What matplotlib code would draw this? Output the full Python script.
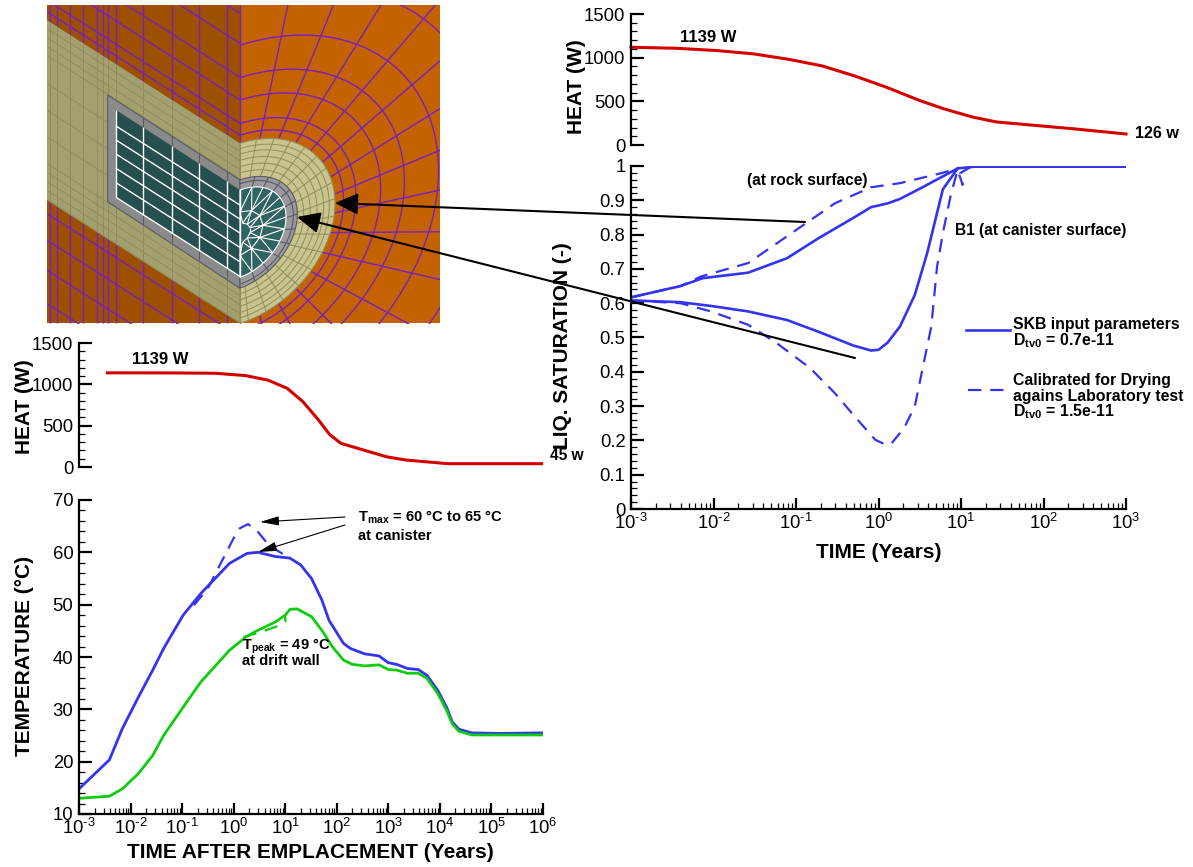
import numpy as np
import matplotlib
matplotlib.use("Agg")
import matplotlib.pyplot as plt
from matplotlib.ticker import LogLocator, MultipleLocator, FixedLocator, NullFormatter, FuncFormatter
from matplotlib.patches import Polygon, Rectangle

# ---------- data (log10 of years, values) ----------
heat_top_logt = [-3, -2.46, -1.97, -1.52, -1.08, -0.68, -0.29, 0.10, 0.50, 0.79, 1.14, 1.43, 1.88, 2.37, 3.0]
heat_top_w = [1119, 1108, 1082, 1044, 980, 905, 791, 660, 509, 415, 320, 264, 226, 185, 126]

heat_left_logt = [-2.45, -1.2, -0.36, 0.23, 0.67, 1.04, 1.34, 1.64, 1.86, 2.08, 2.53, 2.97, 3.34, 4.16, 6]
heat_left_w = [1139, 1138, 1134, 1106, 1050, 951, 792, 573, 394, 286, 203, 123, 84, 40, 40]

can_logt = [-3, -2.41, -2.16, -1.85, -1.57, -1.36, -0.98, -0.64, -0.08, 0.26, 0.47, 0.81, 1.09, 1.30, 1.51, 1.71, 1.85,
            2.13, 2.27, 2.54, 2.82, 3.0, 3.16, 3.37, 3.58, 3.75, 3.96, 4.13, 4.24, 4.37, 4.62, 5.17, 6]
can_temp = [14.8, 20.35, 26.3, 32.3, 37.5, 41.6, 48, 52.1, 57.9, 59.8, 60, 59.2, 58.9, 57.6, 55, 50.9, 47,
            42.6, 41.6, 40.6, 40.2, 38.9, 38.6, 37.8, 37.6, 36.5, 33.6, 30.4, 27.6, 26.2, 25.5, 25.4, 25.5]
wall_logt = [-3, -2.41, -2.16, -1.85, -1.57, -1.36, -0.98, -0.64, -0.08, 0.26, 0.47, 0.81, 1.0, 1.09, 1.23, 1.51, 1.71,
             1.92, 2.13, 2.3, 2.54, 2.82, 3.0, 3.16, 3.37, 3.58, 3.75, 3.96, 4.13, 4.24, 4.37, 4.62, 6]
wall_temp = [13, 13.4, 14.8, 17.7, 21.2, 25, 30.4, 35.2, 41.3, 44, 45.1, 46.7, 48, 49.1, 49.2, 47.7, 45.1,
             41.9, 39.4, 38.6, 38.3, 38.5, 37.6, 37.5, 36.9, 36.9, 35.9, 33, 29.8, 27.2, 25.8, 25.1, 25.1]
can_dash_logt = [-0.77, -0.5, -0.22, 0, 0.12, 0.28, 0.47, 0.68, 0.95]
can_dash_temp = [49.9, 53.1, 58.5, 62.7, 64.6, 65.4, 63.9, 61.4, 59.7]
wall_dash_logt = [0.19, 0.54, 0.85, 1.0, 1.0]
wall_dash_temp = [43.8, 44.8, 45.9, 46.7, 48]

rock_logt = [-3, -2.4, -2.13, -1.58, -1.38, -1.11, -0.73, -0.31, -0.09, 0.11, 0.26, 0.51, 0.96, 1.16, 3]
rock_sat = [.617, .650, .673, .689, .707, .731, .789, .848, .88, .891, .904, .935, .993, .998, .998]
rock_dash_logt = [-3, -2.4, -2.15, -1.58, -1.23, -0.88, -0.53, -0.09, 0.26, 0.76, 0.96]
rock_dash_sat = [.617, .65, .678, .717, .775, .833, .891, .938, .95, .979, .993]
cani_logt = [-3, -2.4, -2.03, -1.58, -1.11, -0.73, -0.31, -0.09, 0, 0.11, 0.26, 0.44, 0.59, 0.78, 0.96]
cani_sat = [.608, .603, .592, .576, .551, .517, .477, .462, .464, .485, .532, .624, .746, .932, .993]
cani_dash_logt = [-3, -2.4, -2.03, -1.58, -1.23, -0.83, -0.53, -0.29, -0.04, 0.09, 0.16, 0.31, 0.44, 0.54, 0.64, 0.71,
                  0.78, 0.88, 0.96, 1.02, 0.99, 1.11]
cani_dash_sat = [.608, .6, .576, .537, .483, .411, .338, .27, .202, .187, .192, .236, .299, .416, .532, .707,
                 .804, .92, .988, .945, .979, .996]

time_decades_right = [-3, 3]
time_decades_left = [-3, 6]

# ---------- style ----------
plt.rcParams['font.family'] = ['Liberation Sans', 'DejaVu Sans']
plt.rcParams['mathtext.fontset'] = 'custom'
plt.rcParams['mathtext.rm'] = 'Liberation Sans'
plt.rcParams['mathtext.bf'] = 'Liberation Sans:bold'
plt.rcParams['mathtext.it'] = 'Liberation Sans'
plt.rcParams['mathtext.default'] = 'regular'
plt.rcParams['lines.solid_joinstyle'] = 'round'

W, H = 1193, 867
RED = '#D40000'
BLUE = '#3333F0'
GREEN = '#10CC10'
fig = plt.figure(figsize=(W / 100, H / 100), dpi=100, facecolor='white')


def px_axes(x0, x1, ytop, ybot):
    a = fig.add_axes([x0 / W, 1 - ybot / H, (x1 - x0) / W, (ybot - ytop) / H])
    a.patch.set_alpha(0)
    for s in ('top', 'right'):
        a.spines[s].set_visible(False)
    for s in ('left', 'bottom'):
        a.spines[s].set_linewidth(1.6)
    return a


def style_y(a, major, minor, fmt=None):
    a.yaxis.set_major_locator(MultipleLocator(major))
    a.yaxis.set_minor_locator(MultipleLocator(minor))
    a.tick_params(axis='y', which='major', direction='in', length=9, width=1.6, labelsize=13.3, pad=4)
    a.tick_params(axis='y', which='minor', direction='in', length=4.5, width=0.9)
    if fmt:
        a.yaxis.set_major_formatter(FuncFormatter(fmt))


def style_logx(a, lo, hi):
    a.set_xscale('log')
    a.set_xlim(10.0 ** lo, 10.0 ** hi)
    a.xaxis.set_major_locator(FixedLocator([10.0 ** d for d in range(lo, hi + 1)]))
    a.xaxis.set_minor_locator(LogLocator(base=10, subs=range(2, 10), numticks=30))
    a.xaxis.set_minor_formatter(NullFormatter())

    def decade(v, p):
        e = round(np.log10(v))
        return '$10^{\u2010%d}$' % -e if e < 0 else '$10^{%d}$' % e

    a.xaxis.set_major_formatter(FuncFormatter(decade))
    a.tick_params(axis='x', which='major', direction='in', length=8, width=1.6, labelsize=13.3, pad=3)
    a.tick_params(axis='x', which='minor', direction='in', length=4, width=0.9)


def hide_x(a, lo, hi):
    a.set_xscale('log')
    a.set_xlim(10.0 ** lo, 10.0 ** hi)
    a.spines['bottom'].set_visible(False)
    a.tick_params(axis='x', which='both', bottom=False, labelbottom=False)


def T(v):
    return 10.0 ** np.asarray(v, float)


# ---------- picture (mesh illustration) on a pixel canvas ----------
pic = fig.add_axes([0, 0, 1, 1], zorder=0)
pic.set_xlim(0, W)
pic.set_ylim(H, 0)
pic.axis('off')
ORANGE, DARK = '#C46200', '#9C5000'
PURPLE, OL_R, OL_L, OL_LINE = '#7A1FC0', '#C8C48C', '#A3A070', '#8F8D5E'
GRAY, GRAY_D, TEAL, TEAL_D = '#8A8A8A', '#5A5A60', '#25504F', '#2F6462'
frame = Rectangle((47, 5), 393, 319, transform=pic.transData)


def zc(x, y):
    return 40 + np.asarray(x, float) / 3, np.asarray(y, float) / 3


def add_poly(points, color, z, ec='none'):
    xs, ys = zc(*zip(*points))
    p = Polygon(np.column_stack([xs, ys]), closed=True, fc=color, ec=ec, lw=0.8, zorder=z)
    pic.add_patch(p)
    p.set_clip_path(frame)


def add_line(xs, ys, color, lw, z):
    x, y = zc(xs, ys)
    l, = pic.plot(x, y, color=color, lw=lw, zorder=z, solid_capstyle='butt')
    l.set_clip_path(frame)


def dome(k, t, b=270, r=285, s=90, cy=700):
    t = np.asarray(t, float)
    return 600 + r * k * np.cos(t), cy + b * k * np.sin(t) - s * k * np.cos(t)


add_poly([(20, 15), (600, 15), (600, 970), (20, 970)], DARK, 1)
add_poly([(600, 15), (1200, 15), (1200, 970), (600, 970)], ORANGE, 1)
slope = 370 / 580

# outer mesh, right side
tt = np.linspace(-np.pi / 2, np.pi / 2, 100)
for k in [1.09, 1.22, 1.48, 1.73, 2.09, 2.6]:
    add_line(*dome(k, tt), PURPLE, 1.0, 2)
for t0 in np.radians(np.arange(-78, 90, 12)):
    add_line(*dome(np.array([1.0, 3.2]), [t0, t0]), PURPLE, 1.0, 2)

# outer mesh, left side
vert_x = [30, 50, 90, 130, 170, 190, 205, 228, 310, 395, 478, 560, 600]
for vx in vert_x:
    add_line([vx, vx], [15, 970], PURPLE, 1.0, 2)
for off in [130, 232, 300, 370, 405, 1010, 1090, 1180, 1280, 1390, 40, -70]:
    add_line([20, 600], [off - 580 * slope, off], PURPLE, 1.0, 2)

# backfill band and its grid
add_poly([(20, 60), (600, 430), (600, 970), (20, 600)], OL_L, 3)
for off in list(np.arange(455, 560, 27)) + list(np.arange(860, 970, 27)) + [620, 700, 780]:
    add_line([20, 600], [off - 580 * slope, off], OL_LINE, 0.7, 4)
for vx in vert_x:
    add_line([vx, vx], [60 + (vx - 20) * slope, 600 + (vx - 20) * slope], OL_LINE, 0.7, 4)
dx, dy = dome(1.0, tt)
add_poly(list(zip(dx, dy)), OL_R, 3, ec=OL_LINE)
for k in [0.67, 0.74, 0.81, 0.88, 0.94]:
    add_line(*dome(k, tt), OL_LINE, 0.7, 4)
for t0 in np.radians(np.arange(-80, 90, 11)):
    add_line(*dome(np.array([0.6, 1.0]), [t0, t0]), OL_LINE, 0.7, 4)

# buffer ring and canister strip
ring = dict(b=162, r=172, s=60, cy=702)
core = dict(b=131, r=138, s=50, cy=701)
add_poly([(203, 285), (600, 540), (600, 865), (203, 605)], GRAY, 5, ec=GRAY_D)
rx, ry = dome(1.0, tt, **ring)
add_poly(list(zip(rx, ry)), '#9A9A9E', 5, ec=GRAY_D)
add_line(*dome(0.93, tt, **ring), GRAY_D, 0.8, 6)
for t0 in np.radians(np.arange(-75, 90, 15)):
    add_line(*dome(np.array([0.8, 1.0]), [t0, t0], **ring), GRAY_D, 0.8, 6)
for vx in [310, 395, 478, 560]:
    add_line([vx, vx], [285 + (vx - 203) * slope, 605 + (vx - 203) * slope], GRAY_D, 0.8, 6)
add_poly([(228, 330), (600, 570), (600, 832), (228, 592)], TEAL, 7)
cx, cy = dome(1.0, tt, **core)
add_poly(list(zip(cx, cy)), TEAL_D, 7, ec='white')

# canister grid and triangles
add_line([228, 228], [330, 592], 'white', 1.0, 8)
for vx in [310, 395, 478, 560, 600]:
    add_line([vx, vx], [330 + (vx - 228) * slope, 592 + (vx - 228) * slope], 'white', 1.0, 8)
for off in [378, 420, 462, 505, 548, 592]:
    add_line([228, 600], [off, off + 372 * slope], 'white', 1.0, 8)
k_in = 0.5
a1 = np.radians(np.arange(-90, 91, 30))
a2 = np.radians(np.arange(-75, 90, 30))
a3 = np.radians(np.arange(-90, 91, 15))
x1, y1 = dome(k_in, a1, **core)
x2, y2 = dome(k_in * 0.45, a2, **core)
x3, y3 = dome(1.0, a3, **core)
for i in range(len(a1)):
    add_line([x1[i], x3[2 * i]], [y1[i], y3[2 * i]], 'white', 0.8, 8)
    if i + 1 < len(a1):
        add_line([x1[i], x1[i + 1]], [y1[i], y1[i + 1]], 'white', 0.8, 8)
        add_line([x1[i], x3[2 * i + 1]], [y1[i], y3[2 * i + 1]], 'white', 0.8, 8)
        add_line([x1[i + 1], x3[2 * i + 1]], [y1[i + 1], y3[2 * i + 1]], 'white', 0.8, 8)
        add_line([x1[i], x2[i]], [y1[i], y2[i]], 'white', 0.8, 8)
        add_line([x1[i + 1], x2[i]], [y1[i + 1], y2[i]], 'white', 0.8, 8)
for i in range(len(a2) - 1):
    add_line([x2[i], x2[i + 1]], [y2[i], y2[i + 1]], 'white', 0.8, 8)

# ---------- top right heat ----------
a_ht = px_axes(631, 1126, 14, 145)
a_ht.plot(T(heat_top_logt), heat_top_w, color=RED, lw=2.2, clip_on=False)
a_ht.set_ylim(0, 1500)
hide_x(a_ht, *time_decades_right)
style_y(a_ht, 500, 100)

# ---------- saturation ----------
a_s = px_axes(631, 1126, 166, 509)
a_s.plot(T(rock_logt), rock_sat, color=BLUE, lw=1.9)
a_s.plot(T(cani_logt), cani_sat, color=BLUE, lw=1.9)
a_s.plot(T(rock_dash_logt), rock_dash_sat, color=BLUE, lw=1.6, dashes=(6, 4))
a_s.plot(T(cani_dash_logt), cani_dash_sat, color=BLUE, lw=1.6, dashes=(6, 4))
a_s.set_ylim(0, 1)
style_logx(a_s, *time_decades_right)
style_y(a_s, 0.1, 0.02, fmt=lambda v, p: ('%.1f' % v).rstrip('0').rstrip('.') if abs(v) > 1e-9 else '0')

# ---------- left heat ----------
a_hl = px_axes(79, 543, 343, 467)
a_hl.plot(T(heat_left_logt), heat_left_w, color=RED, lw=2.2)
a_hl.set_ylim(0, 1500)
hide_x(a_hl, *time_decades_left)
style_y(a_hl, 500, 100)

# ---------- temperature ----------
a_t = px_axes(79, 543, 500, 814)
a_t.plot(T(can_logt), can_temp, color=BLUE, lw=2.0)
a_t.plot(T(wall_logt), wall_temp, color=GREEN, lw=2.0)
a_t.plot(T(can_dash_logt), can_dash_temp, color=BLUE, lw=1.6, dashes=(6, 4))
a_t.plot(T(wall_dash_logt), wall_dash_temp, color=GREEN, lw=1.6, dashes=(6, 4))
a_t.set_ylim(10, 70)
style_logx(a_t, *time_decades_left)
style_y(a_t, 10, 2)

# ---------- overlay: text, arrows, key ----------
ov = fig.add_axes([0, 0, 1, 1], zorder=10)
ov.set_xlim(0, W)
ov.set_ylim(H, 0)
ov.axis('off')
ov.patch.set_alpha(0)


def lab(x, y, s, size=12, **kw):
    kw.setdefault('ha', 'left')
    kw.setdefault('va', 'center')
    ov.text(x, y, s, fontsize=size, fontweight='bold', **kw)


lab(577, 87, 'HEAT (W)', 15, rotation=90, ha='center')
lab(25, 407, 'HEAT (W)', 15, rotation=90, ha='center')
lab(25, 656, 'TEMPERATURE (°C)', 15, rotation=90, ha='center')
lab(562, 346, 'LIQ. SATURATION (-)', 15, rotation=90, ha='center')
lab(879, 552, 'TIME (Years)', 15, ha='center')
lab(310, 853, 'TIME AFTER EMPLACEMENT (Years)', 15, ha='center')

lab(680, 38, '1139 W')
lab(1135, 134, '126 w', 11.6)
lab(132, 360, '1139 W')
lab(550, 455, '45 w', 11.2)
lab(747, 181, '(at rock surface)', 11.2)
lab(955, 231, 'B1 (at canister surface)', 11.2)
lab(358, 517, r'$\mathbf{T_{max}}$ = 60 °C to 65 °C', 10.6)
lab(358, 536, 'at canister', 10.6)
lab(242, 646, r'$\mathbf{T_{peak}}$ = 49 °C', 10.6)
lab(242, 661, 'at drift wall', 10.6)
lab(1013, 325, 'SKB input parameters', 11.4)
lab(1013, 341, r'$\mathbf{D_{tv0}}$ = 0.7e-11', 11.4)
lab(1013, 380, 'Calibrated for Drying', 11.4)
lab(1013, 396, 'agains Laboratory test', 11.4)
lab(1013, 412, r'$\mathbf{D_{tv0}}$ = 1.5e-11', 11.4)
ov.plot([966, 1010], [330, 330], color=BLUE, lw=1.9)
ov.plot([968, 1010], [390, 390], color=BLUE, lw=1.6, dashes=(6, 4))


def arrow(tail, tip, lw, hw, hl):
    ov.annotate('', xy=tip, xytext=tail, arrowprops=dict(
        arrowstyle=f'-|>,head_width={hw},head_length={hl}', color='black', lw=lw, shrinkA=0, shrinkB=0))


arrow((805, 222), (335, 203), 1.5, 0.65, 1.4)
arrow((855, 358), (297, 217), 1.5, 0.65, 1.4)
arrow((345, 517), (260, 522), 0.8, 0.28, 1.15)
arrow((345, 525), (258, 552), 0.8, 0.28, 1.15)

fig.savefig('out.png', dpi=100)
